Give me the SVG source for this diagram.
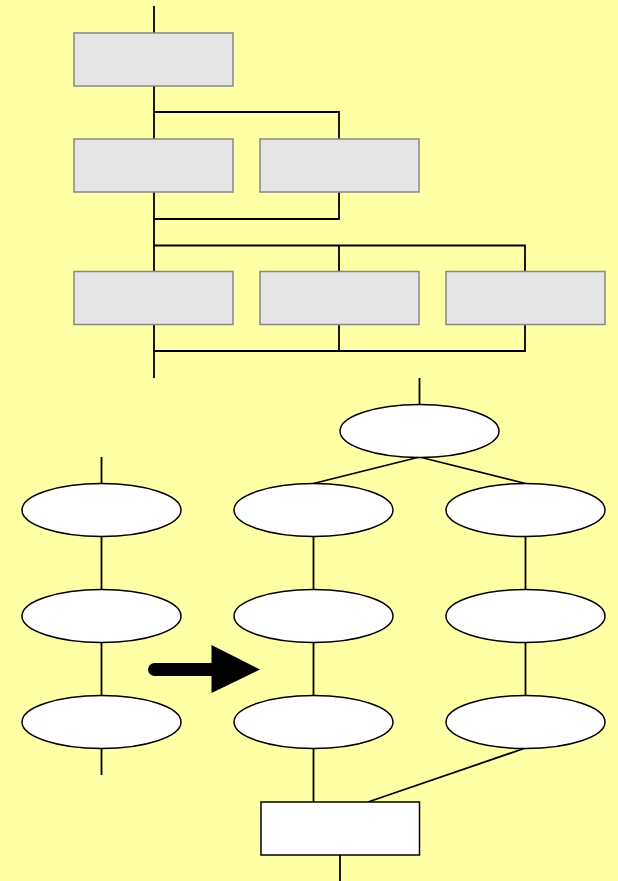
<svg xmlns="http://www.w3.org/2000/svg" width="618" height="881" viewBox="0 0 618 881">
<style>
.g{fill:#e5e5e5;stroke:#888;stroke-width:1.5}
.e{fill:#fff;stroke:#000;stroke-width:1.5}
.c{fill:none;stroke:#000;stroke-width:1.8}
</style>
<rect width="618" height="881" fill="#ffffa6"/>
<g id="connectors">
<path class="c" d="M154 6V378M154 112H339V139M154 219H339V192M154 245.5H525V271M339 245.5V271M154 351H525V324M339 324V351"/>
<path class="c" d="M419.5 378V405M419.5 457L313.5 483.5M419.5 457L525.5 483.5M101.5 457V775M313.5 536V802M525.5 536V696M313.5 642V696M525.5 748L368 802M340 855V881"/>
</g>
<g id="r1"><rect class="g" x="74" y="33" width="159" height="53"/></g>
<g id="r2"><rect class="g" x="74" y="139" width="159" height="53"/></g>
<g id="r3"><rect class="g" x="260" y="139" width="159" height="53"/></g>
<g id="r4"><rect class="g" x="74" y="271.5" width="159" height="53"/></g>
<g id="r5"><rect class="g" x="260" y="271.5" width="159" height="53"/></g>
<g id="r6"><rect class="g" x="446" y="271.5" width="159" height="53"/></g>
<g id="top"><ellipse class="e" cx="419.5" cy="431" rx="79.5" ry="26.5"/></g>
<g id="l1"><ellipse class="e" cx="101.5" cy="510" rx="79.5" ry="26.5"/></g>
<g id="l2"><ellipse class="e" cx="101.5" cy="616" rx="79.5" ry="26.5"/></g>
<g id="l3"><ellipse class="e" cx="101.5" cy="722" rx="79.5" ry="26.5"/></g>
<g id="m1"><ellipse class="e" cx="313.5" cy="510" rx="79.5" ry="26.5"/></g>
<g id="m2"><ellipse class="e" cx="313.5" cy="616" rx="79.5" ry="26.5"/></g>
<g id="m3"><ellipse class="e" cx="313.5" cy="722" rx="79.5" ry="26.5"/></g>
<g id="q1"><ellipse class="e" cx="525.5" cy="510" rx="79.5" ry="26.5"/></g>
<g id="q2"><ellipse class="e" cx="525.5" cy="616" rx="79.5" ry="26.5"/></g>
<g id="q3"><ellipse class="e" cx="525.5" cy="722" rx="79.5" ry="26.5"/></g>
<g id="bottom"><rect class="e" x="261" y="802" width="158.5" height="53"/></g>
<g id="arrow">
<path d="M154.5 669.5H214" stroke="#000" stroke-width="13" stroke-linecap="round" fill="none"/>
<path d="M211.5 645L260 669.5L211.5 693Z" fill="#000"/>
</g>
</svg>
